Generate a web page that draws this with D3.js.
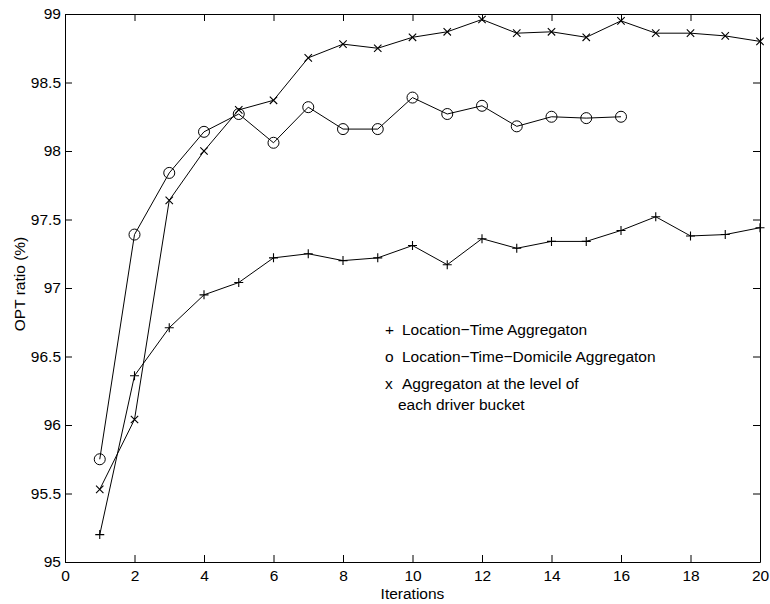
<!DOCTYPE html>
<html lang="en">
<head>
  <meta charset="UTF-8">
  <title>OPT ratio vs iterations</title>
  <script src="https://d3js.org/d3.v7.min.js"></script>
  <style>
    body { margin: 0; background: #fff; }
    svg { display: block; font-family: "Liberation Sans", Arial, sans-serif; }
    .axis text { font-size: 15.5px; fill: #000; }
    .axis path, .axis line { stroke: #000; }
    .legend text { font-size: 15.5px; fill: #000; }
  </style>
</head>
<body>
  <svg width="770" height="604"></svg>
  <script>
    // values
    const iterations = d3.range(1, 21);
    const locTime = [95.2, 96.36, 96.71, 96.95, 97.04, 97.22, 97.25, 97.2, 97.22, 97.31,
                     97.17, 97.36, 97.29, 97.34, 97.34, 97.42, 97.52, 97.38, 97.39, 97.44];
    const locTimeDom = [95.75, 97.39, 97.84, 98.14, 98.27, 98.06, 98.32, 98.16, 98.16, 98.39,
                        98.27, 98.33, 98.18, 98.25, 98.24, 98.25];
    const driverBucket = [95.53, 96.04, 97.64, 98.0, 98.3, 98.37, 98.68, 98.78, 98.75, 98.83,
                          98.87, 98.96, 98.86, 98.87, 98.83, 98.95, 98.86, 98.86, 98.84, 98.8];
    const xTicks = d3.range(0, 21, 2);
    const yTicks = [95, 95.5, 96, 96.5, 97, 97.5, 98, 98.5, 99];

    const margin = { top: 14, right: 10, bottom: 42, left: 65 };
    const width = 770 - margin.left - margin.right;
    const height = 604 - margin.top - margin.bottom;

    const svg = d3.select("svg")
      .append("g")
      .attr("transform", `translate(${margin.left},${margin.top})`);

    const x = d3.scaleLinear().domain([0, 20]).range([0, width]);
    const y = d3.scaleLinear().domain([95, 99]).range([height, 0]);

    // axes with inward ticks, mirrored on top and right
    svg.append("g").attr("class", "axis")
      .attr("transform", `translate(0,${height})`)
      .call(d3.axisBottom(x).tickValues(xTicks).tickSize(-7).tickSizeOuter(0).tickPadding(8));
    svg.append("g").attr("class", "axis")
      .call(d3.axisTop(x).tickValues(xTicks).tickSize(-7).tickSizeOuter(0).tickFormat(""));
    svg.append("g").attr("class", "axis")
      .call(d3.axisLeft(y).tickValues(yTicks).tickSize(-7).tickSizeOuter(0).tickPadding(4)
        .tickFormat(d => String(d)));
    svg.append("g").attr("class", "axis")
      .attr("transform", `translate(${width},0)`)
      .call(d3.axisRight(y).tickValues(yTicks).tickSize(-7).tickSizeOuter(0).tickFormat(""));

    // axis titles
    svg.append("text")
      .attr("x", width / 2).attr("y", height + 37)
      .attr("text-anchor", "middle").attr("font-size", "15.5px")
      .text("Iterations");
    svg.append("text")
      .attr("transform", `translate(${-40},${270}) rotate(-90)`)
      .attr("text-anchor", "middle").attr("font-size", "15.5px")
      .text("OPT ratio (%)");

    const line = d3.line().x((d, i) => x(iterations[i])).y(d => y(d));

    const markers = {
      plus: "M-4.5,0H4.5M0,-4.5V4.5",
      cross: "M-3.7,-3.7L3.7,3.7M3.7,-3.7L-3.7,3.7"
    };

    function drawSeries(values, marker) {
      svg.append("path")
        .datum(values)
        .attr("fill", "none")
        .attr("stroke", "#000")
        .attr("stroke-width", 1)
        .attr("d", line);

      const pts = svg.append("g").selectAll("g")
        .data(values)
        .join("g")
        .attr("transform", (d, i) => `translate(${x(iterations[i])},${y(d)})`);

      if (marker === "circle") {
        pts.append("circle").attr("r", 5.5)
          .attr("fill", "none").attr("stroke", "#000");
      } else {
        pts.append("path").attr("d", markers[marker])
          .attr("fill", "none").attr("stroke", "#000").attr("stroke-width", 1.1);
      }
    }

    drawSeries(locTime, "plus");
    drawSeries(locTimeDom, "circle");
    drawSeries(driverBucket, "cross");

    // legend
    const legend = svg.append("g").attr("class", "legend");
    const legendRows = [
      { sym: "+", lines: ["Location\u2212Time Aggregaton"] },
      { sym: "o", lines: ["Location\u2212Time\u2212Domicile Aggregaton"] },
      { sym: "x", lines: ["Aggregaton at the level of", "each driver bucket"] }
    ];
    const legendX = 320, legendY = 330;
    legendRows.forEach((r, i) => {
      legend.append("text")
        .attr("x", legendX).attr("y", legendY + i * 27 - margin.top)
        .attr("dy", "0.35em")
        .text(r.sym);
      r.lines.forEach((t, j) => {
        legend.append("text")
          .attr("x", legendX + (j === 0 ? 17 : 13))
          .attr("y", legendY + i * 27 + j * 21 - margin.top)
          .attr("dy", "0.35em")
          .text(t);
      });
    });
  </script>
</body>
</html>
